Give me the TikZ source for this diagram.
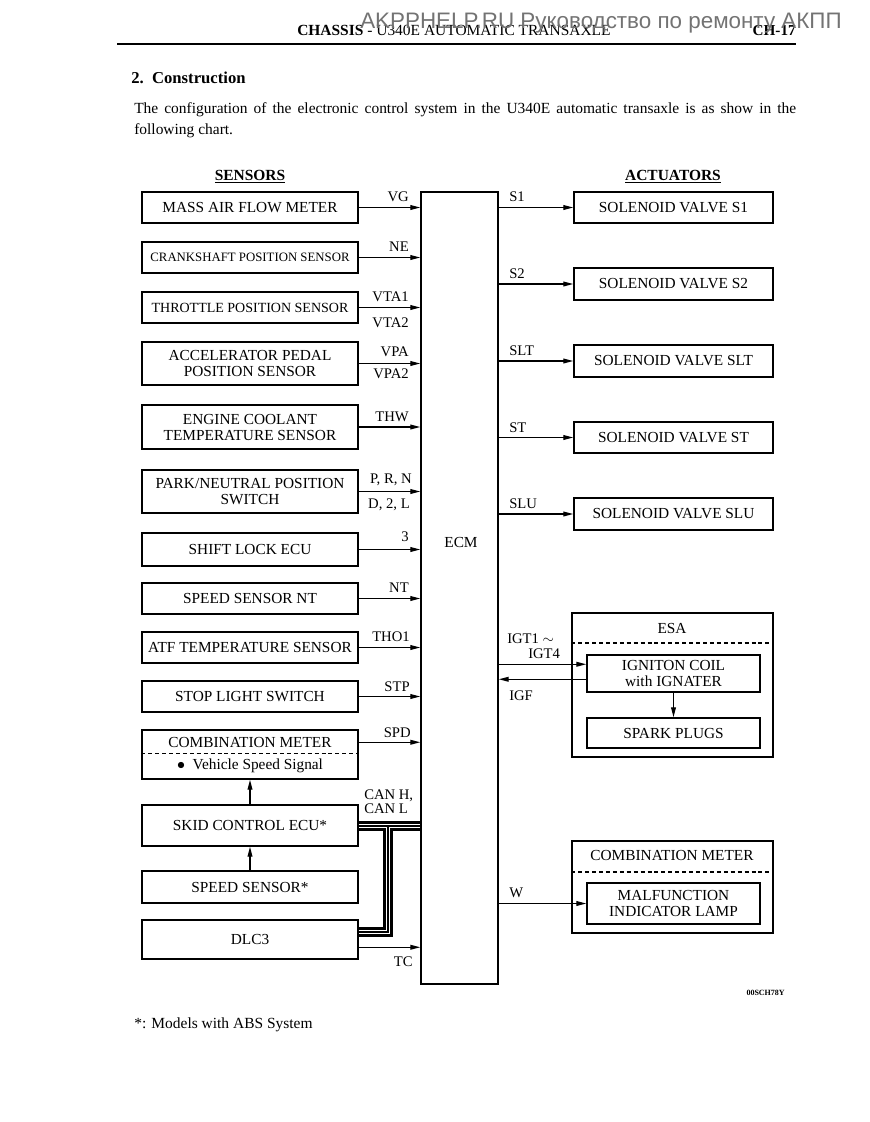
\documentclass[tikz,border=0pt]{standalone}
\usepackage{fontspec}
\setmainfont{Liberation Serif}
\newfontfamily\wmfont{Liberation Sans}
\usetikzlibrary{arrows.meta,calc}
\newcommand\bx[6]{\node[box, minimum width={(#4-#2)*0.75pt}, minimum height={(#5-#3)*0.75pt}] (#1) at ({(#2+#4)/2},{(#3+#5)/2}) {#6};}
\begin{document}
\begin{tikzpicture}[x=0.75pt,y=-0.75pt,
  box/.style={draw, line width=1.1pt, inner sep=0pt, align=center, font=\fontsize{11.5}{12}\selectfont},
  arr/.style={line width=0.95pt, -{Triangle[length=7.5pt,width=3.6pt]}},
  lab/.style={inner sep=0pt, font=\fontsize{11}{12}\selectfont},
  labl/.style={lab, anchor=base east},
  labr/.style={lab, anchor=base west},
  txt/.style={inner sep=0pt, font=\fontsize{11.6}{14}\selectfont},
  dsh/.style={line width=0.8pt, dash pattern=on 3pt off 2.2pt},
  buso/.style={line width=7pt, line join=miter},
  busw/.style={line width=3.6pt, white, line join=miter},
  busc/.style={line width=1pt, line join=miter},
]
\fill[white] (0,0) rectangle (869,1122);
\useasboundingbox (0,0) rectangle (869,1122);

% header
\node[txt, anchor=base west, font=\fontsize{11.6}{13}\selectfont] (hdr) at (297,35) {\textbf{CHASSIS} - U340E AUTOMATIC TRANSAXLE};
\node[txt, anchor=base east, font=\bfseries\fontsize{11.4}{13}\selectfont] (pg) at (796,35) {CH-17};
\draw[line width=1.1pt] (117,44) -- (796,44);
\node[txt, anchor=base west, font=\bfseries\fontsize{12.5}{14}\selectfont] (sec) at (131,83) {2.\ \ Construction};
\node[txt, anchor=base west] (p1) at (134,113) {\makebox[496.5pt][s]{The configuration of the electronic control system in the U340E automatic transaxle is as show in the}};
\node[txt, anchor=base west] (p2) at (134,134) {following chart.};

% column titles
\node[txt, anchor=base, font=\bfseries\fontsize{11.6}{14}\selectfont] (sens) at (250,180) {\underline{SENSORS}};
\node[txt, anchor=base, font=\bfseries\fontsize{11.6}{14}\selectfont] (act) at (673,180) {\underline{ACTUATORS}};

% ECM
\bx{ecm}{421}{192}{498}{984}{}
\node[txt, font=\fontsize{11.5}{13}\selectfont] (ecml) at (461,542) {ECM};

% sensors
\bx{maf}{142}{192}{358}{223}{MASS AIR FLOW METER}
\bx{crk}{142}{242}{358}{273}{\fontsize{9.6}{11}\selectfont CRANKSHAFT POSITION SENSOR}
\bx{tps}{142}{292}{358}{323}{\fontsize{10.5}{12}\selectfont THROTTLE POSITION SENSOR}
\bx{app}{142}{342}{358}{385}{ACCELERATOR PEDAL\\POSITION SENSOR}
\bx{ect}{142}{405}{358}{449}{ENGINE COOLANT\\TEMPERATURE SENSOR}
\bx{pnp}{142}{470}{358}{513}{PARK/NEUTRAL POSITION\\SWITCH}
\bx{slk}{142}{533}{358}{566}{SHIFT LOCK ECU}
\bx{snt}{142}{583}{358}{614}{SPEED SENSOR NT}
\bx{atf}{142}{632}{358}{663}{ATF TEMPERATURE SENSOR}
\bx{stp}{142}{681}{358}{712}{STOP LIGHT SWITCH}
\bx{cml}{142}{730}{358}{779}{}
\node[txt, font=\fontsize{11.5}{13}\selectfont] (cmlt) at (250,742) {COMBINATION METER};
\node[txt, font=\fontsize{11.5}{13}\selectfont] (cmlb) at (250,766) {$\bullet$\ \ Vehicle Speed Signal};
\draw[dsh] (cml.west |- cmlb.north) ++(0,-5) coordinate (cmd1) -- (cml.east |- cmd1);
\bx{skid}{142}{805}{358}{846}{SKID CONTROL ECU*}
\bx{ss}{142}{871}{358}{903}{SPEED SENSOR*}
\bx{dlc}{142}{920}{358}{959}{DLC3}

% sensor arrows
\foreach \n in {maf,crk,tps,app,ect,pnp,slk,snt,atf,stp}
  \draw[arr] (\n.east) -- (ecm.west |- \n.east);
\coordinate (spd) at ($(cml.north east)+(0,13)$);
\draw[arr] (spd) -- (ecm.west |- spd);
\coordinate (tc) at ($(dlc.north east)+(0,28)$);
\draw[arr] (tc) -- (ecm.west |- tc);
\draw[arr] (skid.north) -- (cml.south);
\draw[arr] (ss.north) -- (skid.south);

% sensor labels
\node[labl] (lvg) at (409,201) {VG};
\node[labl] (lne) at (409,251) {NE};
\node[labl] (lvta1) at (409,301) {VTA1};
\node[labl] (lvta2) at (409,327) {VTA2};
\node[labl] (lvpa) at (409,356) {VPA};
\node[labl] (lvpa2) at (409,378) {VPA2};
\node[labl] (lthw) at (409,421) {THW};
\node[labl] (lprn) at (412,483) {P, R, N};
\node[labl] (ld2l) at (410,508) {D, 2, L};
\node[labl] (l3) at (409,541) {3};
\node[labl] (lnt) at (409,592) {NT};
\node[labl] (ltho) at (410,641) {THO1};
\node[labl] (lstp) at (410,691) {STP};
\node[labl] (lspd) at (411,737) {SPD};
\node[labl] (ltc) at (413,966) {TC};
\node[labr] (lcanh) at (364,799) {CAN H,};
\node[labr] (lcanl) at (364,813) {CAN L};

% CAN bus
\coordinate (j) at (388,826);
\coordinate (dj) at (388,932);
\draw[buso] (skid.east |- j) -- (ecm.west |- j) (dlc.east |- dj) -- (dj) -- (j);
\draw[busw] (skid.east |- j) -- (ecm.west |- j) (dlc.east |- dj) -- (dj) -- (j);
\draw[busc] (skid.east |- j) -- (ecm.west |- j) (dlc.east |- dj) -- (dj) -- (j);

% actuators
\bx{s1}{574}{192}{773}{223}{SOLENOID VALVE S1}
\bx{s2}{574}{268}{773}{300}{SOLENOID VALVE S2}
\bx{slt}{574}{345}{773}{377}{SOLENOID VALVE SLT}
\bx{st}{574}{422}{773}{453}{SOLENOID VALVE ST}
\bx{slu}{574}{498}{773}{530}{SOLENOID VALVE SLU}
\foreach \n in {s1,s2,slt,st,slu}
  \draw[arr] (ecm.east |- \n.west) -- (\n.west);
\node[labr] (ls1) at (509,201) {S1};
\node[labr] (ls2) at (509,278) {S2};
\node[labr] (lslt) at (509,355) {SLT};
\node[labr] (lst) at (509,432) {ST};
\node[labr] (lslu) at (509,508) {SLU};

% ESA
\bx{esa}{572}{613}{773}{757}{}
\node[txt, font=\fontsize{11.5}{13}\selectfont] (esal) at (672,628) {ESA};
\coordinate (esad) at (672,643);
\draw[dsh] (esa.west |- esad) -- (esa.east |- esad);
\bx{coil}{587}{655}{760}{692}{IGNITON COIL\\with IGNATER}
\bx{spk}{587}{718}{760}{748}{SPARK PLUGS}
\coordinate (igt) at ($(coil.north west)+(0,10)$);
\coordinate (igf) at ($(coil.north west)+(0,25)$);
\draw[arr] (ecm.east |- igt) -- (igt);
\draw[arr] (igf) -- (ecm.east |- igf);
\draw[arr] (coil.south) -- (spk.north);
\node[labr] (ligt1) at (507,643) {IGT1 $\sim$};
\node[labr] (ligt4) at (528,658) {IGT4};
\node[labr] (ligf) at (509,700) {IGF};

% combination meter (right)
\bx{cmr}{572}{841}{773}{933}{}
\node[txt, font=\fontsize{11.5}{13}\selectfont] (cmrl) at (672,855) {COMBINATION METER};
\coordinate (cmrd) at (672,872);
\draw[dsh] (cmr.west |- cmrd) -- (cmr.east |- cmrd);
\bx{mil}{587}{883}{760}{924}{MALFUNCTION\\INDICATOR LAMP}
\draw[arr] (ecm.east |- mil.west) -- (mil.west);
\node[labr] (lw) at (509,897) {W};

% footer
\node[txt, anchor=base east, font=\bfseries\fontsize{6}{7}\selectfont] (code) at (785,995) {00SCH78Y};
\node[txt, anchor=base west] (fn) at (134,1028) {*: Models with ABS System};

% watermark
\node[inner sep=0pt, anchor=base west, font=\wmfont\fontsize{16.8}{20}\selectfont, text=black!55] (wm) at (360,28) {AKPPHELP.RU Руководство по ремонту АКПП};
\end{tikzpicture}
\end{document}
